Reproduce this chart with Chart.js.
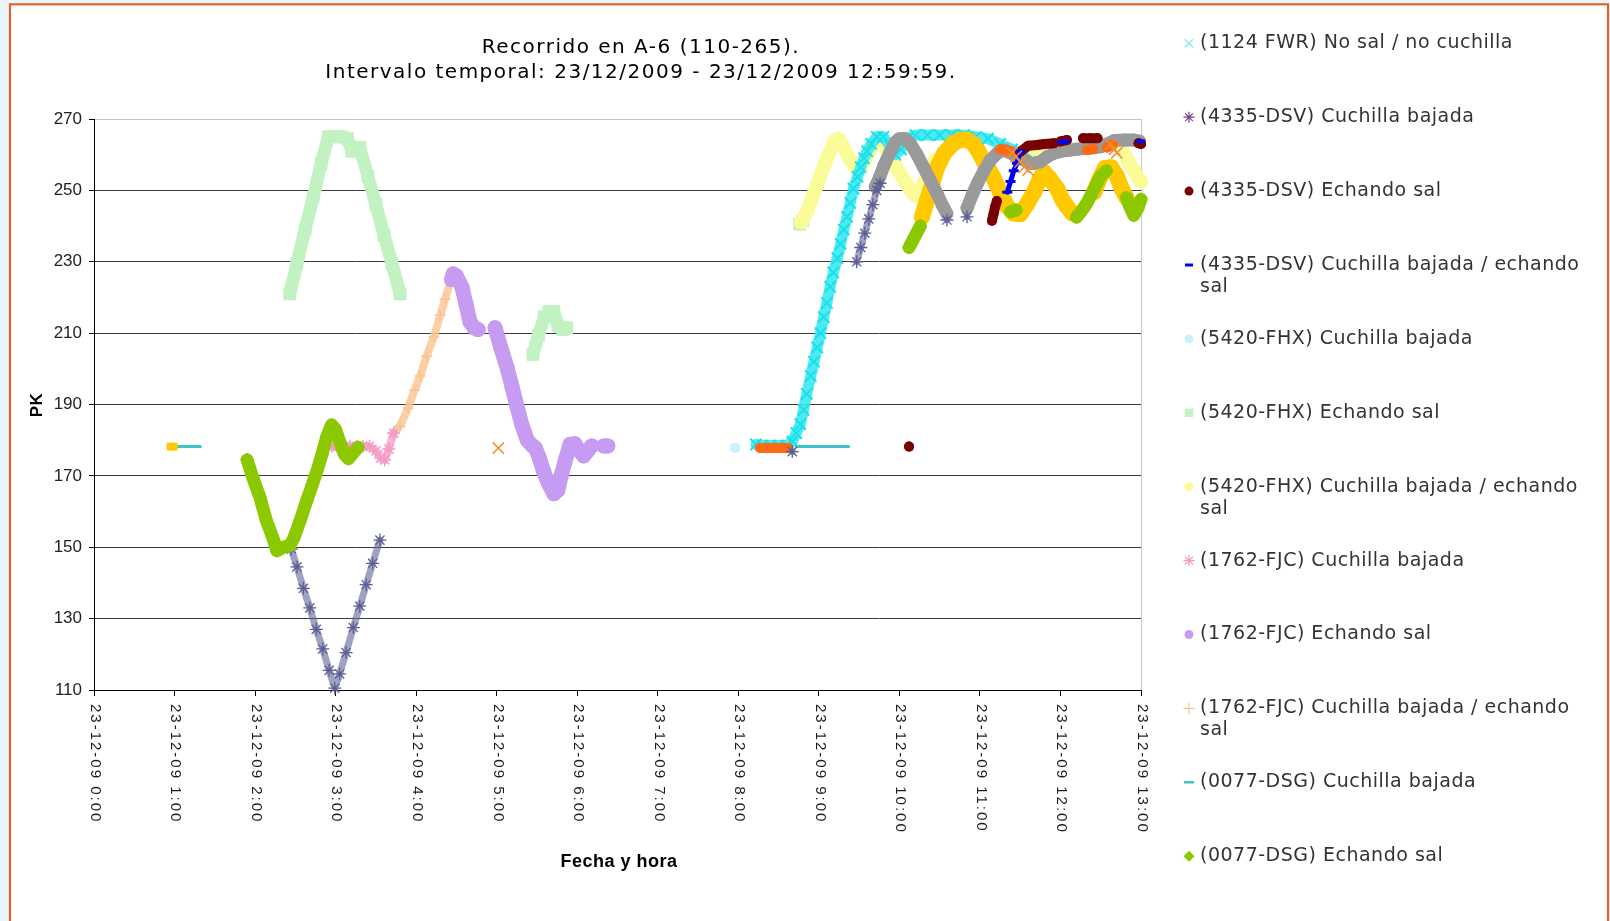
<!DOCTYPE html>
<html><head><meta charset="utf-8">
<script src="https://cdn.jsdelivr.net/npm/chart.js@4.4.1/dist/chart.umd.min.js"></script>
<style>html,body{margin:0;padding:0;background:#eaf4fb;}canvas{display:block;}</style>
</head><body>
<canvas id="c" width="1610" height="921"></canvas>
<script>
// ---------- texts ----------
const chartTitle = ['Recorrido en A-6 (110-265).', 'Intervalo temporal: 23/12/2009 - 23/12/2009 12:59:59.'];
const xAxisTitle = 'Fecha y hora';
const yAxisTitle = 'PK';
const hourTicks = [0,1,2,3,4,5,6,7,8,9,10,11,12,13];
const hourLabels = ['23-12-09 0:00','23-12-09 1:00','23-12-09 2:00','23-12-09 3:00','23-12-09 4:00','23-12-09 5:00','23-12-09 6:00','23-12-09 7:00','23-12-09 8:00','23-12-09 9:00','23-12-09 10:00','23-12-09 11:00','23-12-09 12:00','23-12-09 13:00'];
const pkTicks = [110,130,150,170,190,210,230,250,270];

// ---------- series (hour of day, PK); null = gap ----------
// (1124 FWR) No sal / no cuchilla
const fwr_h  = [8.22,8.30,8.40,8.50,8.60,8.67,8.72,8.77,8.81,8.85,8.90,8.94,8.98,9.02,9.06,9.10,9.14,9.18,9.23,9.27,9.31,9.35,9.39,9.43,9.48,9.52,9.56,9.60,9.65,9.72,9.80,9.88,9.95,10.02,10.10,10.20,10.35,10.50,10.65,10.80,10.95,11.10,11.25,11.40,11.52,11.62];
const fwr_pk = [178.8,178.5,178.5,178.5,178.5,179.6,182,184.5,188.5,193,198,202,206,210,214.5,218.5,223,227,231,235,239,242.6,246.5,250.5,253.8,256.5,259,261,263,265,265,262.5,260,261.5,264.5,265.5,265.5,265.5,265.5,265.5,265,264.5,263,261.5,260,258];
// (4335-DSV) Cuchilla bajada
const dsvC_h  = [2.45,2.52,2.60,2.68,2.76,2.84,2.92,2.99,3.05,3.13,3.22,3.30,3.38,3.46,3.55,null,8.67,null,9.47,9.52,9.57,9.62,9.67,9.72,9.76,null,10.59,null,10.84];
const dsvC_pk = [149.5,144.5,138.5,133,127,121.5,115.5,110.5,114.5,120.5,127.5,133.5,139.5,145.5,152,null,176.8,null,230,234,238,242,246,250,252,null,241.7,null,242.6];
// (4335-DSV) Echando sal
const dsvS_h  = [10.12,null,11.15,11.17,11.19,11.21,null,11.50,11.60,11.71,11.80,11.92,null,12.00,12.08,null,12.28,12.37,12.46,null,12.97,13.00];
const dsvS_pk = [178.2,null,241.5,243.5,245.5,247,null,260.8,262.5,262.7,263,263.2,null,263.7,264.1,null,264.6,264.6,264.6,null,263.2,263];
// (4335-DSV) Cuchilla bajada / echando sal
const dsvCS_h  = [11.34,11.38,11.42,11.46,11.50,null,12.02,12.06,null,12.99];
const dsvCS_pk = [249.5,252.5,255.5,257.6,261,null,263.5,263.8,null,263.8];
// (5420-FHX) Cuchilla bajada
const fhxC_h  = [7.96];
const fhxC_pk = [177.8];
// (5420-FHX) Echando sal
const fhxS_h  = [2.43,2.52,2.62,2.72,2.82,2.91,3.00,3.08,3.15,3.20,3.25,3.30,3.40,3.50,3.60,3.70,3.80,null,5.45,5.52,5.59,5.65,5.71,5.76,5.82,5.87,null,8.76,8.80];
const fhxS_pk = [221,229.5,239,248,257.5,265,265,265,264.5,261,261,262,254,246,237.5,229.5,221,null,204,209.5,214.5,216,216,212,211,211.5,null,240.5,241.5];
// (5420-FHX) Cuchilla bajada / echando sal
const fhxCS_h  = [8.78,8.85,8.94,9.00,9.06,9.13,9.20,9.25,9.32,9.39,9.45,9.50,9.56,9.63,9.70,9.76,9.83,9.92,10.00,10.08,10.14,10.20,10.27,10.35,10.43,null,11.55,11.65,11.75,null,12.74,12.80,12.86,12.91,12.96,13.00];
const fhxCS_pk = [241,244,249.2,253,256.6,260.5,264,264.5,261.5,258.5,256.5,255.7,258,261,263.5,264.5,262,258,255,252,250,248.5,250.5,254.5,258.5,null,260.5,261.5,262.5,null,262.2,260,257.5,255.7,253.5,252.4];
// (1762-FJC) Cuchilla bajada
const fjcC_h  = [2.95,3.02,3.10,3.18,3.26,3.34,3.42,3.50,3.56,3.61,3.66,3.72];
const fjcC_pk = [178.3,178.3,178.3,178.3,178.3,178.3,178.3,177,175,174.5,177.5,182];
// (1762-FJC) Echando sal
const fjcS_h  = [4.44,4.46,4.50,4.57,4.62,4.67,4.72,4.77,null,4.98,5.05,5.13,5.19,5.25,5.31,5.38,5.44,5.48,5.53,5.58,5.64,5.71,5.76,5.80,5.86,5.91,5.97,6.03,6.08,6.13,6.18,null,6.33,6.38];
const fjcS_pk = [225,226.6,226,222.8,218,213.1,211.5,211,null,211.5,206,200.2,195,189.6,184.5,180,178.5,177.8,175,171.4,168,165,166,170,175,178.8,179,177,175.6,177,178.4,null,178.4,178.4];
// (1762-FJC) Cuchilla bajada / echando sal
const fjcCS_h  = [3.72,3.80,3.90,3.98,4.05,4.13,4.22,4.30,4.36,4.42,4.45];
const fjcCS_pk = [182,184,189,194,198,203.5,209,215,219.5,224,225.5];
// (0077-DSG) Cuchilla bajada
const dsgC_h  = [1.02,1.32,null,8.72,9.37];
const dsgC_pk = [178.2,178.2,null,178.2,178.2];
// (0077-DSG) Echando sal
const dsgS_h  = [1.90,1.98,2.06,2.14,2.23,2.27,2.35,2.43,2.48,2.56,2.64,2.71,2.77,2.83,2.89,2.95,3.00,3.06,3.11,3.16,3.22,3.28,null,10.12,10.19,10.26,null,11.38,11.45,null,12.20,12.27,12.33,12.42,12.50,12.57,null,12.82,12.86,12.91,12.96,13.00];
const dsgS_pk = [174.5,169,164,157.5,152,149,150,150.5,152.5,157.5,163,167.5,171.5,176,181,184.3,183,179,176,174.8,176.5,178,null,234,237,240,null,244,244.5,null,242.5,244.5,246.5,250.5,254,255.5,null,248,245.5,243,245,247.5];
// further series drawn in the plot but not listed in the legend
const goldEarly_h  = [0.95,0.99];
const goldEarly_pk = [178.2,178.2];
const gold_h  = [10.28,10.34,10.41,10.47,10.56,10.67,10.76,10.84,10.92,10.98,11.05,11.11,11.17,11.25,11.34,11.42,11.50,11.58,11.67,11.74,11.79,11.86,11.96,12.02,12.08,12.15,null,12.42,12.48,12.55,12.63,12.70,12.76,12.82];
const gold_pk = [242.5,247,252,256.5,260.5,263.2,264.2,264.2,263,261,258,256,253.5,249.5,245.5,243.5,243.3,246,249.5,253,255.2,253.5,250.5,247.5,245.5,243.5,null,249.5,253,256.2,256.5,254,250.5,248];
const gray_h  = [9.70,9.76,9.81,9.88,9.95,10.00,10.07,10.14,10.22,10.30,10.38,10.47,10.53,10.59,null,10.84,10.90,10.97,11.05,11.13,11.22,11.30,11.42,11.55,11.65,11.75,11.84,11.92,12.02,12.12,12.22,12.33,12.42,12.50,12.58,12.67,12.80,12.91,12.98];
const gray_pk = [251,254,257,260.5,263.5,264.5,264.5,263,260,256.5,253,249,246,243.5,null,245,248.5,252,255.5,258.5,260.5,261.3,260,258.5,257.5,258,259.5,260.4,261,261.3,261.6,261.8,262,262.2,263,264,264.1,264.1,263.8];
const orng_h  = [8.27,8.33,8.39,8.45,8.51,8.57,8.62,null,11.25,11.32,11.38,null,12.33,12.41,null,12.58,12.65];
const orng_pk = [177.8,177.8,177.8,177.8,177.8,177.8,177.8,null,261.5,261.3,261,null,261.3,261.5,null,262,262.8];
const orx_h  = [5.02,null,11.40,11.45,11.50,11.55,11.60,null,12.62,12.67,12.70];
const orx_pk = [177.8,null,260.5,259.5,258,256.5,255.7,null,263,261.5,260.5];

// ---------- series styling ----------
const seriesDefs = [
  {label:'(1124 FWR) No sal / no cuchilla', h:fwr_h, pk:fwr_pk, color:'#18e0ec', lineColor:'rgba(60,232,240,0.9)', style:'crossRot', r:8, pbw:2, lw:11, order:9, legend:true, lr:6, lbw:1.2, lcolor:'#7ceaf0'},
  {label:'(4335-DSV) Cuchilla bajada', h:dsvC_h, pk:dsvC_pk, color:'#5e5e96', lineColor:'rgba(98,98,154,0.6)', style:'star', r:6.5, pbw:1.3, lw:7, order:4, legend:true, lr:5.5, lbw:1.2, lcolor:'#7a3e8c'},
  {label:'(4335-DSV) Echando sal', h:dsvS_h, pk:dsvS_pk, color:'#780000', style:'circle', r:5, pbw:0, lw:10, order:3, legend:true, lr:4.5, lbw:0},
  {label:'(4335-DSV) Cuchilla bajada / echando sal', h:dsvCS_h, pk:dsvCS_pk, color:'#0000ee', style:'line', r:5, pbw:3, lw:5, order:2, legend:true, lr:4, lbw:3},
  {label:'(5420-FHX) Cuchilla bajada', h:fhxC_h, pk:fhxC_pk, color:'#c4f4f8', style:'circle', r:5, pbw:0, lw:10, order:10, legend:true, lr:4.5, lbw:0},
  {label:'(5420-FHX) Echando sal', h:fhxS_h, pk:fhxS_pk, color:'#c2f2c2', style:'rect', r:9, pbw:0, lw:13, order:15, legend:true, lr:6, lbw:0},
  {label:'(5420-FHX) Cuchilla bajada / echando sal', h:fhxCS_h, pk:fhxCS_pk, color:'#fbfb98', style:'circle', r:7, pbw:0, lw:14, order:11, legend:true, lr:4.5, lbw:0},
  {label:'(1762-FJC) Cuchilla bajada', h:fjcC_h, pk:fjcC_pk, color:'#f59cc6', lineColor:'rgba(245,156,198,0.75)', style:'star', r:6.5, pbw:1.5, lw:8, order:12, legend:true, lr:5.5, lbw:1.2},
  {label:'(1762-FJC) Echando sal', h:fjcS_h, pk:fjcS_pk, color:'#c69cf2', style:'circle', r:7.5, pbw:0, lw:15, order:13, legend:true, lr:4.5, lbw:0},
  {label:'(1762-FJC) Cuchilla bajada / echando sal', h:fjcCS_h, pk:fjcCS_pk, color:'#f9c490', lineColor:'rgba(249,196,144,0.8)', style:'cross', r:5.5, pbw:1.5, lw:8, order:14, legend:true, lr:5.5, lbw:1.2},
  {label:'(0077-DSG) Cuchilla bajada', h:dsgC_h, pk:dsgC_pk, color:'#3cc4c8', style:'line', r:0, pbw:0, lw:3, order:8, legend:true, lr:5, lbw:2.5},
  {label:'(0077-DSG) Echando sal', h:dsgS_h, pk:dsgS_pk, color:'#8cc800', style:'rectRot', r:7, pbw:0, lw:13, order:1, legend:true, lr:5.5, lbw:0},
  {label:'gold early', h:goldEarly_h, pk:goldEarly_pk, color:'#ffc800', style:'rect', r:5.5, pbw:0, lw:7, order:7, legend:false},
  {label:'gold', h:gold_h, pk:gold_pk, color:'#ffc800', style:'circle', r:8, pbw:0, lw:16, order:7, legend:false},
  {label:'gray', h:gray_h, pk:gray_pk, color:'#9a9a9a', style:'circle', r:6.5, pbw:0, lw:13, order:6, legend:false},
  {label:'orange', h:orng_h, pk:orng_pk, color:'#ff6a10', style:'circle', r:5, pbw:0, lw:10, order:5, legend:false},
  {label:'orangeX', h:orx_h, pk:orx_pk, color:'#ee9030', style:'crossRot', r:8, pbw:1.5, lw:0, order:0, legend:false}
];

const datasets = seriesDefs.map(s => ({
  label: s.label,
  data: s.h.map((h, i) => ({x: h, y: s.pk[i]})),
  showLine: s.lw > 0,
  borderColor: s.lineColor || s.color,
  borderWidth: s.lw,
  backgroundColor: s.color,
  borderCapStyle: 'round',
  borderJoinStyle: 'round',
  tension: 0,
  spanGaps: false,
  pointStyle: s.style,
  pointRadius: s.r,
  pointHoverRadius: s.r,
  pointBorderWidth: s.pbw,
  pointBackgroundColor: s.color,
  pointBorderColor: s.color,
  order: s.order,
  clip: false
}));

function drawMarker(ctx, style, x, y, r, bw, color) {
  ctx.save();
  ctx.fillStyle = color; ctx.strokeStyle = color; ctx.lineWidth = bw;
  if (window.Chart && Chart.helpers && Chart.helpers.drawPoint) {
    Chart.helpers.drawPoint(ctx, {pointStyle: style, radius: r, borderWidth: bw, rotation: 0}, x, y);
  } else {
    ctx.beginPath(); ctx.arc(x, y, r, 0, Math.PI * 2); ctx.fill();
  }
  ctx.restore();
}

const decor = {
  id: 'decor',
  beforeDraw(chart) {
    const ctx = chart.ctx;
    ctx.save();
    ctx.fillStyle = '#eaf4fb';
    ctx.fillRect(0, 0, chart.width, chart.height);
    ctx.fillStyle = '#ffffff';
    ctx.fillRect(10, 4, 1598, 930);
    ctx.strokeStyle = '#e8612c';
    ctx.lineWidth = 2.2;
    ctx.strokeRect(10, 4.3, 1598, 930);
    ctx.restore();
  },
  beforeDatasetsDraw(chart) {
    const {ctx, chartArea: a} = chart;
    ctx.save();
    ctx.strokeStyle = '#c4c4c4'; ctx.lineWidth = 1;
    ctx.beginPath(); ctx.moveTo(a.right + 0.5, a.top); ctx.lineTo(a.right + 0.5, a.bottom); ctx.stroke();
    ctx.restore();
  },
  afterDraw(chart) {
    const ctx = chart.ctx;
    const xs = chart.scales.x;
    ctx.save();
    // title
    ctx.fillStyle = '#000';
    ctx.font = '20px "DejaVu Sans"';
    ctx.letterSpacing = '1.5px';
    ctx.textAlign = 'center'; ctx.textBaseline = 'middle';
    ctx.fillText(chartTitle[0], 641, 48);
    ctx.fillText(chartTitle[1], 641, 73);
    // x tick labels (rotated clockwise)
    ctx.font = '15px "Liberation Sans"';
    ctx.letterSpacing = '2px';
    ctx.fillStyle = '#1c1c1c';
    ctx.textAlign = 'left'; ctx.textBaseline = 'middle';
    hourTicks.forEach((h, i) => {
      const px = xs.getPixelForValue(h);
      ctx.save();
      ctx.translate(px + 1, 704);
      ctx.rotate(Math.PI / 2);
      ctx.fillText(hourLabels[i], 0, 0);
      ctx.restore();
    });
    // axis titles
    ctx.letterSpacing = '0.5px';
    ctx.fillStyle = '#000';
    ctx.font = 'bold 18px "Liberation Sans"';
    ctx.textAlign = 'center';
    ctx.fillText(xAxisTitle, 619, 862);
    ctx.save();
    ctx.translate(37, 405);
    ctx.rotate(-Math.PI / 2);
    ctx.font = 'bold 17px "Liberation Sans"';
    ctx.fillText(yAxisTitle, 0, 0);
    ctx.restore();
    // legend
    ctx.font = '19px "DejaVu Sans"';
    ctx.letterSpacing = '0.5px';
    ctx.textAlign = 'left'; ctx.textBaseline = 'middle';
    const maxW = 395;
    let k = 0;
    seriesDefs.forEach(s => {
      if (!s.legend) return;
      const y = 43.3 + k * 73.9;
      drawMarker(ctx, s.style, 1189, y, s.lr, s.lbw, s.lcolor || s.color);
      ctx.fillStyle = '#333';
      const words = s.label.split(' ');
      const lines = [];
      let cur = '';
      words.forEach(w => {
        const t = cur ? cur + ' ' + w : w;
        if (ctx.measureText(t).width > maxW && cur) { lines.push(cur); cur = w; } else cur = t;
      });
      lines.push(cur);
      lines.forEach((ln, j) => ctx.fillText(ln, 1200, y + j * 22));
      k++;
    });
    ctx.restore();
  }
};

new Chart(document.getElementById('c'), {
  type: 'scatter',
  data: {datasets},
  options: {
    responsive: false,
    animation: false,
    layout: {padding: {left: 0, top: 119, right: 469, bottom: 0}},
    plugins: {legend: {display: false}, title: {display: false}, tooltip: {enabled: false}},
    events: [],
    scales: {
      x: {
        type: 'linear', min: 0, max: 13,
        afterBuildTicks: s => { s.ticks = hourTicks.map(v => ({value: v})); },
        afterFit: s => { s.height = 231; },
        ticks: {autoSkip: false, callback: () => '', padding: 0, font: {size: 1}},
        grid: {drawOnChartArea: false, drawTicks: true, tickLength: 6, tickColor: '#000', color: '#000'},
        border: {color: '#000', width: 1}
      },
      y: {
        type: 'linear', min: 110, max: 270,
        afterBuildTicks: s => { s.ticks = pkTicks.map(v => ({value: v})); },
        afterFit: s => { s.width = 94; },
        ticks: {color: '#222', padding: 7, font: {family: 'Liberation Sans', size: 17}, callback: v => String(v)},
        grid: {color: c => (c.tick && c.tick.value === 270) ? '#c4c4c4' : '#3a3a3a', tickColor: '#000', tickLength: 5, drawTicks: true},
        border: {color: '#000', width: 1}
      }
    }
  },
  plugins: [decor]
});
</script>
</body></html>
